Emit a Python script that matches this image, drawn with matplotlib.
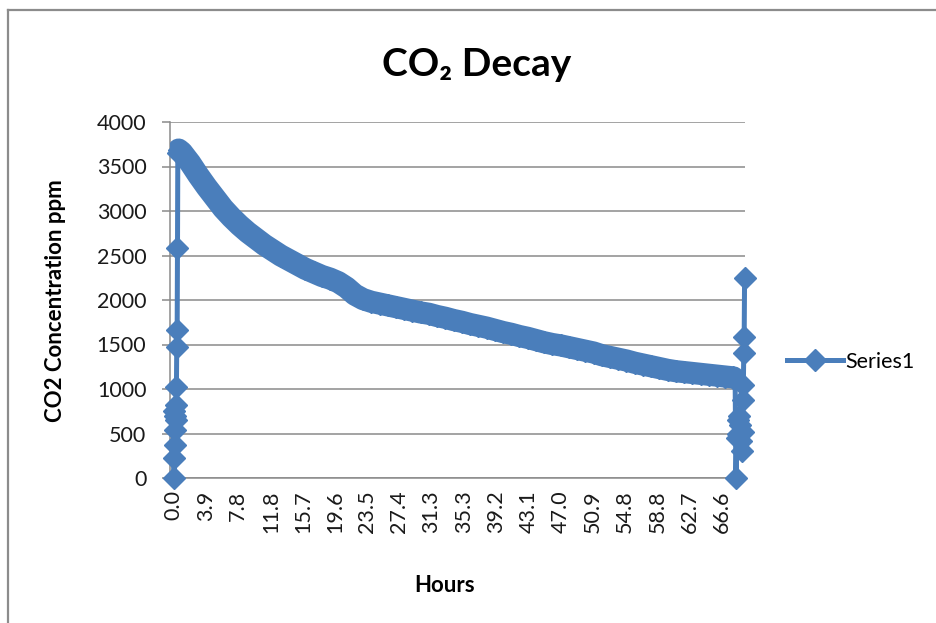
import numpy as np
import matplotlib
matplotlib.use("Agg")
import matplotlib.pyplot as plt
from matplotlib.lines import Line2D

plt.rcParams['font.family'] = ['Lato', 'DejaVu Sans']

# ---- data (hours, CO2 ppm) ----
start_hours = [0.00, 0.04, 0.08, 0.12, 0.17, 0.21, 0.25, 0.29, 0.33, 0.37, 0.42, 0.46, 0.50]
start_ppm   = [750, 0, 230, 370, 540, 700, 820, 650, 1020, 1470, 1660, 2585, 3650]

decay_hours = [0.6, 1, 2, 3, 4, 5, 6, 7, 8, 9, 10, 11, 12, 13, 14, 15, 16, 17, 18, 19,
               20, 21, 22, 23, 24, 25, 26, 27, 28, 29, 30, 31, 32, 33, 34, 35, 36, 37,
               38, 39, 40, 41, 42, 43, 44, 45, 46, 47, 48, 49, 50, 51, 52, 53, 54, 55,
               56, 57, 58, 59, 60, 61, 62, 63, 64, 65, 66, 67, 68]
decay_ppm = [3690, 3660, 3540, 3400, 3270, 3150, 3030, 2930, 2840, 2760, 2690, 2620,
             2560, 2500, 2450, 2400, 2350, 2310, 2270, 2240, 2200, 2140, 2060, 2010,
             1980, 1960, 1940, 1920, 1900, 1880, 1860, 1845, 1820, 1800, 1775, 1755,
             1730, 1710, 1690, 1665, 1640, 1620, 1595, 1575, 1550, 1525, 1505, 1490,
             1470, 1450, 1430, 1410, 1380, 1360, 1340, 1320, 1295, 1275, 1255, 1235,
             1215, 1200, 1190, 1180, 1170, 1160, 1150, 1140, 1130]

end_hours = [68.2, 68.3, 68.4, 68.5, 68.6, 68.7, 68.8, 68.9, 69.0, 69.1, 69.15, 69.2,
             69.25, 69.3, 69.35]
end_ppm   = [1100, 0, 450, 650, 500, 700, 600, 420, 300, 520, 880, 1050, 1400, 1580, 2250]

hours = start_hours + decay_hours + end_hours
ppm = start_ppm + decay_ppm + end_ppm

tick_labels = ['0.0', '3.9', '7.8', '11.8', '15.7', '19.6', '23.5', '27.4', '31.3',
               '35.3', '39.2', '43.1', '47.0', '50.9', '54.8', '58.8', '62.7', '66.6']
tick_hours = [float(t) for t in tick_labels]
y_ticks = list(range(0, 4001, 500))

W, H = 937, 623
fig = plt.figure(figsize=(W / 100, H / 100), dpi=100)
fig.patch.set_facecolor('white')

# chart border (top/left visible)
fig.add_artist(Line2D([8 / W, 8 / W], [0, 1 - 10 / H], color='#8c8c8c', lw=1.6,
                      transform=fig.transFigure))
fig.add_artist(Line2D([8 / W, 1], [1 - 10 / H, 1 - 10 / H], color='#8c8c8c', lw=1.6,
                      transform=fig.transFigure))

ax = fig.add_axes([170 / W, 1 - 478 / H, (745 - 170) / W, (478 - 122) / H])
blue = '#4A7EBB'
ax.plot(hours, ppm, color=blue, lw=3.6, marker='D', markersize=11,
        markerfacecolor=blue, markeredgecolor=blue, label='Series1', zorder=3,
        clip_on=False)
# dense, noisy readings of the decay part render as a wide band
ax.plot(decay_hours, decay_ppm, color=blue, lw=16, solid_capstyle='round',
        solid_joinstyle='round', zorder=3)

ax.set_xlim(-0.45, 69.4)
ax.set_ylim(0, 4000)
ax.set_yticks(y_ticks)
ax.set_yticklabels([str(v) for v in y_ticks])
ax.set_xticks(tick_hours)
ax.set_xticklabels(tick_labels, rotation=90)
ax.yaxis.grid(True, color='#8a8a8a', lw=1.1)
ax.set_axisbelow(True)

for s in ['top', 'right']:
    ax.spines[s].set_visible(False)
for s in ['left', 'bottom']:
    ax.spines[s].set_color('#8a8a8a')
    ax.spines[s].set_linewidth(1.1)

ax.tick_params(axis='y', length=6, width=1.1, color='#8a8a8a', pad=11,
               labelsize=15.5, labelcolor='#1a1a1a')
ax.tick_params(axis='x', length=0, pad=9, labelsize=15.5, labelcolor='#1a1a1a')

fig.text(477 / W, 1 - 65 / H, 'CO\u2082 Decay', ha='center', va='center',
         fontsize=28, fontweight='bold')
fig.text(445 / W, 1 - 585 / H, 'Hours', ha='center', va='center',
         fontsize=16, fontweight='bold')
fig.text(56 / W, 1 - 301 / H, 'CO2 Concentration ppm', ha='center', va='center',
         rotation=90, fontsize=16, fontweight='bold')

ax.legend(loc='center left', bbox_to_anchor=(787 / W, 1 - 362 / H),
          bbox_transform=fig.transFigure, frameon=False, fontsize=15.5,
          handlelength=2.6, handletextpad=0.1, borderpad=0, borderaxespad=0)

fig.savefig('out.png', dpi=100)
